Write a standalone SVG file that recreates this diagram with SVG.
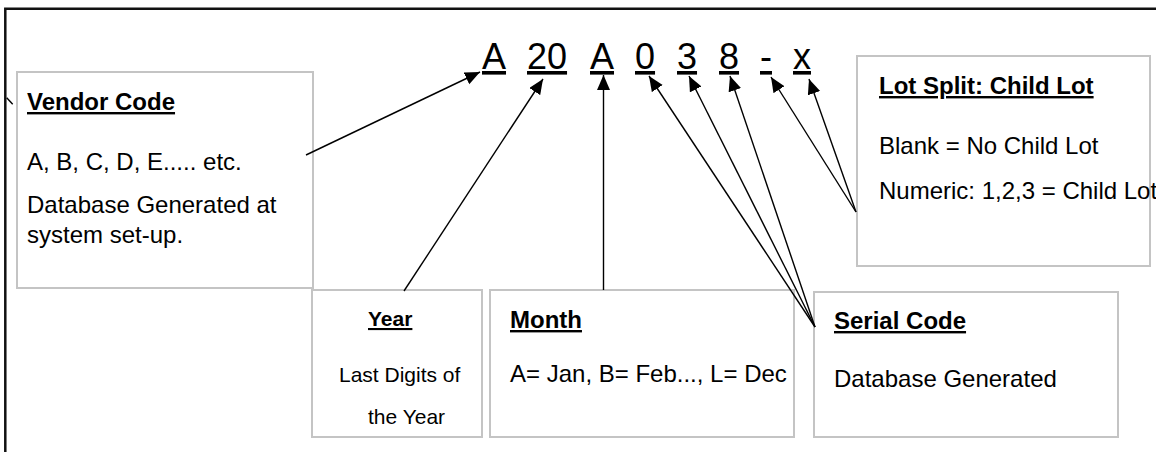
<svg xmlns="http://www.w3.org/2000/svg" width="1156" height="452" viewBox="0 0 1156 452">
<style>
text{font-family:"Liberation Sans",Arial,sans-serif;fill:#000}
.box{fill:#fff;stroke:#c4c4c4;stroke-width:2}
.h{font-size:24px;font-weight:bold;text-decoration:underline}
.b{font-size:24px}
.hs{font-size:21px;font-weight:bold;text-decoration:underline}
.bs{font-size:21px}
.code{font-size:36px;text-decoration:underline}
.con{stroke:#000;stroke-width:1.4;fill:none}
.arr{marker-end:url(#ah)}
</style>
<defs>
<marker id="ah" markerUnits="userSpaceOnUse" markerWidth="16" markerHeight="14" refX="15" refY="6.5" orient="auto">
<path d="M0,0 L15,6.5 L0,13 z" fill="#000"/>
</marker>
</defs>
<rect width="1156" height="452" fill="#fff"/>
<path d="M5.3,452 V8.8 H1156" fill="none" stroke="#111" stroke-width="2.5"/>
<g id="code">
<text class="code" x="482" y="69">A</text>
<text class="code" x="527" y="69">20</text>
<text class="code" x="590" y="69">A</text>
<text class="code" x="635" y="69">0</text>
<text class="code" x="677" y="69">3</text>
<text class="code" x="719" y="69">8</text>
<text class="code" x="760" y="69">-</text>
<text class="code" x="793" y="69">x</text>
</g>
<g id="vendor">
<rect class="box" x="17" y="72" width="296" height="216"/>
<text class="h" x="27" y="110">Vendor Code</text>
<text class="b" x="27" y="170">A, B, C, D, E..... etc.</text>
<text class="b" x="27" y="213">Database Generated at</text>
<text class="b" x="27" y="243">system set-up.</text>
</g>
<g id="lotsplit">
<rect class="box" x="857" y="56" width="293" height="210"/>
<text class="h" x="879" y="94">Lot Split: Child Lot</text>
<text class="b" x="879" y="154">Blank = No Child Lot</text>
<text class="b" x="879" y="199">Numeric: 1,2,3 = Child Lot</text>
</g>
<g id="year">
<rect class="box" x="312" y="290" width="170" height="147"/>
<text class="hs" x="368" y="326">Year</text>
<text class="bs" x="339" y="382">Last Digits of</text>
<text class="bs" x="368" y="424">the Year</text>
</g>
<g id="month">
<rect class="box" x="490" y="290" width="304" height="147"/>
<text class="h" x="510" y="328">Month</text>
<text class="b" x="510" y="382">A= Jan, B= Feb..., L= Dec</text>
</g>
<g id="serial">
<rect class="box" x="814" y="292" width="304" height="145"/>
<text class="h" x="834" y="329">Serial Code</text>
<text class="b" x="834" y="387">Database Generated</text>
</g>
<g id="connectors">
<line class="con" x1="6.7" y1="97.7" x2="12.7" y2="104.3"/>
<line class="con arr" x1="306" y1="155" x2="480" y2="72"/>
<line class="con arr" x1="404" y1="291" x2="543" y2="79"/>
<line class="con arr" x1="603.5" y1="290" x2="603.5" y2="75"/>
<line class="con arr" x1="815" y1="327" x2="649" y2="76"/>
<line class="con arr" x1="815" y1="327" x2="689" y2="76"/>
<line class="con arr" x1="815" y1="327" x2="730" y2="76"/>
<line class="con arr" x1="856" y1="212" x2="771" y2="77"/>
<line class="con arr" x1="856" y1="212" x2="809" y2="79"/>
</g>
</svg>
